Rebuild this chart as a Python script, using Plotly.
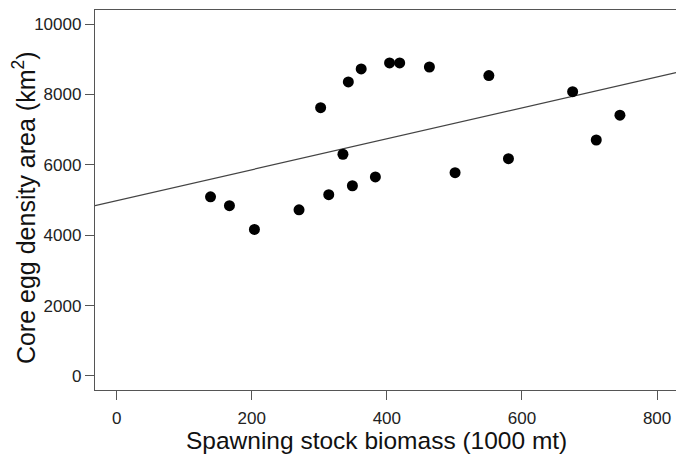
import plotly.graph_objects as go

# Data
ssb = [139, 167, 204, 270, 302, 314, 335, 343, 349, 362, 383, 404, 419,
       463, 501, 551, 580, 675, 710, 745]
egg_area = [5090, 4840, 4165, 4720, 7625, 5150, 6300, 8355, 5405, 8725,
            5655, 8895, 8895, 8780, 5775, 8535, 6175, 8080, 6705, 7410]

fit_intercept = 4980
fit_slope = 4.4

x_range = [-32, 828]
y_range = [-400, 10400]
x_ticks = [0, 200, 400, 600, 800]
x_labels = ["0", "200", "400", "600", "800"]
y_ticks = [0, 2000, 4000, 6000, 8000, 10000]
y_labels = ["0", "2000", "4000", "6000", "8000", "10000"]

x_title = "Spawning stock biomass (1000 mt)"
y_title = "Core egg density area (km<sup>2</sup>)"

line_x = [x_range[0], x_range[1]]
line_y = [fit_intercept + fit_slope * v for v in line_x]

FONT = "Liberation Sans, Arial, Helvetica, sans-serif"

fig = go.Figure()
fig.add_trace(go.Scatter(x=line_x, y=line_y, mode="lines",
                         line=dict(color="#444444", width=1.2),
                         hoverinfo="skip", showlegend=False))
fig.add_trace(go.Scatter(x=ssb, y=egg_area, mode="markers",
                         marker=dict(color="black", size=11),
                         showlegend=False))

axis_common = dict(showgrid=False, zeroline=False, showline=True,
                   linecolor="#555555", linewidth=1.3, automargin=False,
                   ticks="outside", ticklen=9, tickwidth=1.3, tickcolor="#555555",
                   tickfont=dict(family=FONT, size=17, color="#222222"))

fig.update_xaxes(range=x_range, tickvals=x_ticks, ticktext=x_labels, mirror=True,
                 ticklabelstandoff=3, **axis_common)
fig.update_yaxes(range=y_range, tickvals=y_ticks, ticktext=y_labels,
                 **axis_common)

fig.add_annotation(text=x_title, xref="paper", yref="paper",
                   x=0.4845, y=-0.134, xanchor="center", yanchor="middle",
                   showarrow=False,
                   font=dict(family=FONT, size=24.5, color="#111111"))
fig.add_annotation(text=y_title, xref="paper", yref="paper",
                   x=-0.122, y=0.479, xanchor="center", yanchor="middle",
                   textangle=-90, showarrow=False,
                   font=dict(family=FONT, size=25, color="#111111"))

fig.update_layout(width=676, height=457,
                  margin=dict(l=95, r=0, t=10, b=67),
                  plot_bgcolor="white", paper_bgcolor="white",
                  font=dict(family=FONT))

# remove the default 8px page margin so the figure fills the window exactly
fig.write_html("out.html",
               config={"displayModeBar": False},
               post_script="document.body.style.margin='0';"
                           "document.body.style.overflow='hidden';")
